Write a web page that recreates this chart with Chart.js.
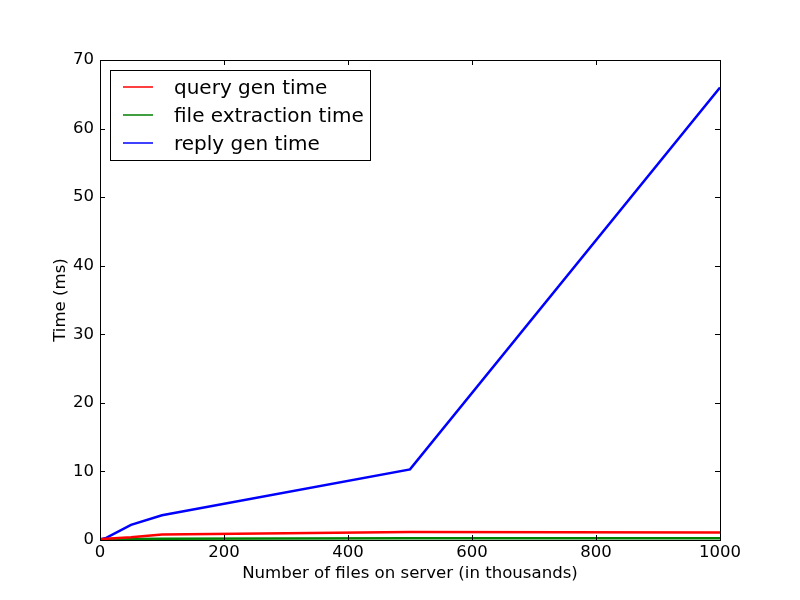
<!DOCTYPE html>
<html>
<head>
<meta charset="utf-8">
<script src="https://cdn.jsdelivr.net/npm/chart.js@4"></script>
<style>
  body { margin: 0; background: #fff; }
  #wrap { width: 800px; height: 600px; }
</style>
</head>
<body>
<div id="wrap"><canvas id="chart" width="800" height="600"></canvas></div>
<script>
// ---------- data ----------
const filesK = [1, 10, 50, 100, 500, 1000];
const queryGen = [0.1, 0.2, 0.4, 0.8, 1.15, 1.1];
const fileExtract = [0.05, 0.1, 0.15, 0.2, 0.25, 0.25];
const replyGen = [0.1, 0.3, 2.2, 3.6, 10.3, 66];
const seriesNames = ['query gen time', 'file extraction time', 'reply gen time'];
const seriesColors = ['#ff0000', '#008000', '#0000ff'];
const xTicks = [0, 200, 400, 600, 800, 1000];
const yTicks = [0, 10, 20, 30, 40, 50, 60, 70];

const FONT = '"DejaVu Sans", sans-serif';

function toPoints(ys) {
    return filesK.map((x, i) => ({ x, y: ys[i] }));
}

// frame, inward ticks on all four sides, legend box (matplotlib classic look)
const framePlugin = {
    id: 'frame',
    afterDraw(chart) {
        const { ctx, chartArea: a, scales } = chart;
        const tl = 5;
        ctx.save();
        ctx.strokeStyle = '#000';
        ctx.lineWidth = 1;
        ctx.beginPath();
        xTicks.forEach(v => {
            const px = Math.round(scales.x.getPixelForValue(v)) + 0.5;
            ctx.moveTo(px, a.bottom); ctx.lineTo(px, a.bottom - tl);
            ctx.moveTo(px, a.top); ctx.lineTo(px, a.top + tl);
        });
        yTicks.forEach(v => {
            const py = Math.round(scales.y.getPixelForValue(v)) + 0.5;
            ctx.moveTo(a.left, py); ctx.lineTo(a.left + tl, py);
            ctx.moveTo(a.right, py); ctx.lineTo(a.right - tl, py);
        });
        ctx.stroke();
        ctx.strokeRect(Math.round(a.left) + 0.5, Math.round(a.top) + 0.5,
            Math.round(a.right - a.left), Math.round(a.bottom - a.top));

        // legend
        const lx = a.left + 10, ly = a.top + 10, lw = 260, lh = 90;
        ctx.fillStyle = '#fff';
        ctx.fillRect(lx, ly, lw, lh);
        ctx.strokeStyle = '#000';
        ctx.lineWidth = 1;
        ctx.strokeRect(lx + 0.5, ly + 0.5, lw, lh);
        ctx.font = '20px ' + FONT;
        ctx.textBaseline = 'middle';
        chart.data.datasets.forEach((ds, i) => {
            const yy = ly + 17 + i * 28;
            ctx.beginPath();
            ctx.strokeStyle = seriesColors[i];
            ctx.lineWidth = 1.5;
            ctx.moveTo(lx + 13, yy);
            ctx.lineTo(lx + 43, yy);
            ctx.stroke();
            ctx.fillStyle = '#000';
            ctx.fillText(ds.label, lx + 64, yy + 2);
        });
        ctx.restore();
    }
};

new Chart(document.getElementById('chart').getContext('2d'), {
    type: 'line',
    data: {
        datasets: [queryGen, fileExtract, replyGen].map((ys, i) => ({
            label: seriesNames[i],
            data: toPoints(ys),
            borderColor: seriesColors[i],
            backgroundColor: seriesColors[i],
            borderWidth: 2.5,
            pointRadius: 0,
            tension: 0,
            fill: false
        }))
    },
    options: {
        responsive: false,
        animation: false,
        layout: { padding: { top: 60, right: 80, left: 0, bottom: 0 } },
        plugins: {
            legend: { display: false },
            tooltip: { enabled: false }
        },
        scales: {
            x: {
                type: 'linear',
                min: 0,
                max: 1000,
                afterFit: s => { s.height = 60; },
                afterBuildTicks: s => { s.ticks = xTicks.map(v => ({ value: v })); },
                grid: { display: false, drawTicks: false },
                border: { display: false },
                ticks: {
                    color: '#000', padding: 3, maxRotation: 0,
                    font: { family: FONT, size: 16.5 },
                    callback: v => String(v)
                },
                title: {
                    display: true,
                    text: 'Number of files on server (in thousands)',
                    color: '#000',
                    font: { family: FONT, size: 16.6 },
                    padding: { top: 0, bottom: 16 }
                }
            },
            y: {
                min: 0,
                max: 70,
                afterFit: s => { s.width = 100; },
                afterBuildTicks: s => { s.ticks = yTicks.map(v => ({ value: v })); },
                grid: { display: false, drawTicks: false },
                border: { display: false },
                ticks: {
                    color: '#000', padding: 6,
                    font: { family: FONT, size: 16.5 },
                    callback: v => String(v)
                },
                title: {
                    display: true,
                    text: 'Time (ms)',
                    color: '#000',
                    font: { family: FONT, size: 16.6 },
                    padding: { top: 51, bottom: 0 }
                }
            }
        }
    },
    plugins: [framePlugin]
});
</script>
</body>
</html>
